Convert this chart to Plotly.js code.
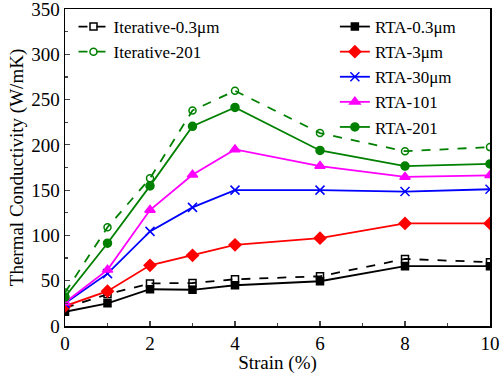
<!DOCTYPE html>
<html><head><meta charset="utf-8">
<script src="https://cdn.plot.ly/plotly-3.0.1.min.js"></script>
<style>html,body{margin:0;padding:0;background:#fff}#c{width:500px;height:374px}</style>
</head><body><div id="c"></div>
<script>
var strain = [0, 1, 2, 3, 4, 6, 8, 10];
var rta03 = [15.7, 25, 40.6, 40, 45, 49.4, 66, 66];
var iter03 = [20, 35, 47, 47.5, 51.6, 54.9, 74, 70.5];
var rta3 = [22, 38.4, 67, 78, 89.6, 97, 113.3, 113.3];
var rta30 = [25, 57.8, 104.5, 131, 150, 150, 148.4, 151];
var rta101 = [26, 62, 128, 167, 195, 176.6, 164.6, 166.4];
var rta201 = [32, 91.4, 154.7, 220.5, 241.3, 193.8, 176.6, 179];
var iter201 = [37, 109, 163, 238, 259.7, 213, 193, 197.5];

var F = 'Liberation Serif';
function tr(name, y, color, symbol, dash, legend, msize){
  return {x: strain, y: y, name: name, type: 'scatter', mode: 'lines+markers',
    line: {color: color, width: 1.8, dash: dash},
    marker: {color: color, symbol: symbol, size: msize || 8, line: {color: color, width: 1.5}},
    legend: legend, legendgroup: name};
}
var data = [
  tr('Iterative-0.3\u03bcm', iter03, '#000000', 'square-open', 'dash', 'legend', 7),
  tr('Iterative-201', iter201, '#008000', 'circle-open', 'dash', 'legend', 7),
  tr('RTA-0.3\u03bcm', rta03, '#000000', 'square', 'solid', 'legend2', 7),
  tr('RTA-3\u03bcm', rta3, '#ff0000', 'diamond', 'solid', 'legend2', 9),
  tr('RTA-30\u03bcm', rta30, '#0000ff', 'x-thin-open', 'solid', 'legend2', 9),
  tr('RTA-101', rta101, '#ff00ff', 'triangle-up', 'solid', 'legend2', 9),
  tr('RTA-201', rta201, '#008000', 'circle', 'solid', 'legend2', 8)
];
var layout = {
  width: 500, height: 374,
  margin: {l: 65, r: 10, t: 9, b: 48},
  paper_bgcolor: '#fff', plot_bgcolor: '#fff',
  font: {family: F, color: '#000', size: 19},
  showlegend: true,
  xaxis: {range: [0, 10], dtick: 2, tick0: 0, ticks: 'inside', ticklen: 5, tickwidth: 1.2,
    showline: true, mirror: true, linecolor: '#000', linewidth: 1.5, showgrid: false, zeroline: false,
    minor: {ticks: 'inside', dtick: 1, ticklen: 3, tickwidth: 1.2, showgrid: false},
    tickfont: {family: F, size: 19}, ticklabeloverflow: 'allow',
    title: {text: 'Strain (%)', font: {family: F, size: 19}, standoff: 1}},
  yaxis: {range: [0, 350], dtick: 50, tick0: 0, ticks: 'inside', ticklen: 5, tickwidth: 1.2,
    showline: true, mirror: true, linecolor: '#000', linewidth: 1.5, showgrid: false, zeroline: false,
    minor: {ticks: 'inside', dtick: 25, ticklen: 3, tickwidth: 1.2, showgrid: false},
    tickfont: {family: F, size: 19}, ticklabeloverflow: 'allow',
    title: {text: 'Thermal Conductivity (W/mK)', font: {family: F, size: 19}, standoff: 2}},
  legend: {x: 0.02, y: 1.0, xanchor: 'left', yanchor: 'top', bgcolor: 'rgba(0,0,0,0)',
    font: {family: F, size: 17}, tracegroupgap: 0, itemwidth: 30},
  legend2: {x: 0.635, y: 1.0, xanchor: 'left', yanchor: 'top', bgcolor: 'rgba(0,0,0,0)',
    font: {family: F, size: 17}, tracegroupgap: 0, itemwidth: 30}
};
Plotly.newPlot('c', data, layout, {displayModeBar: false, staticPlot: true});
</script></body></html>
